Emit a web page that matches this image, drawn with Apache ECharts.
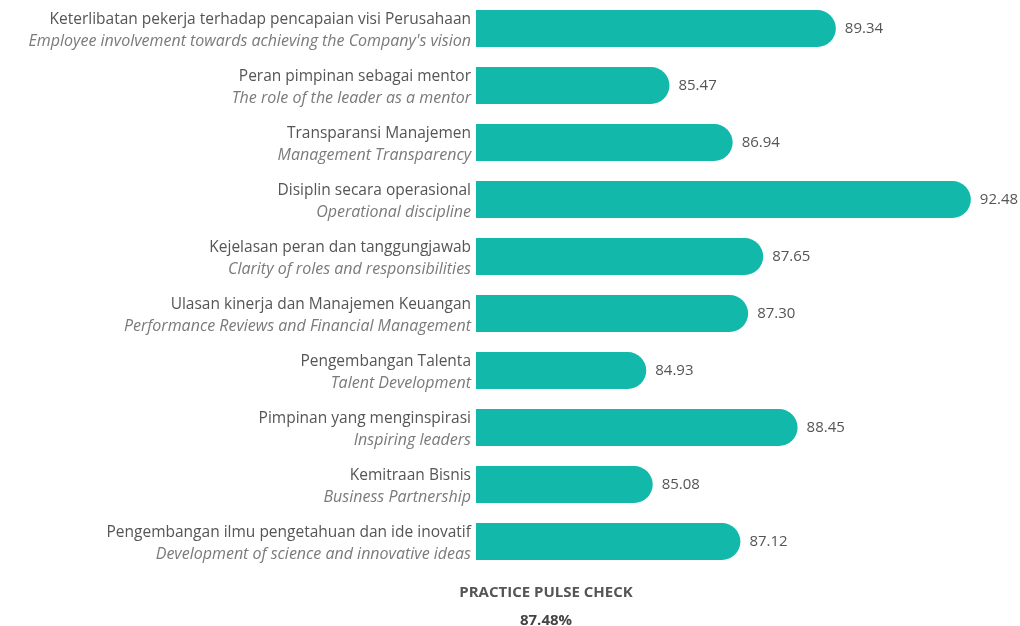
<!DOCTYPE html>
<html>
<head>
<meta charset="utf-8">
<script src="https://cdn.jsdelivr.net/npm/echarts@6/dist/echarts.min.js"></script>
<style>
html,body{margin:0;padding:0;background:#fff;}
#chart{width:1020px;height:626px;}
</style>
</head>
<body>
<div id="chart"></div>
<script>
const labelsId = [
  "Keterlibatan pekerja terhadap pencapaian visi Perusahaan",
  "Peran pimpinan sebagai mentor",
  "Transparansi Manajemen",
  "Disiplin secara operasional",
  "Kejelasan peran dan tanggungjawab",
  "Ulasan kinerja dan Manajemen Keuangan",
  "Pengembangan Talenta",
  "Pimpinan yang menginspirasi",
  "Kemitraan Bisnis",
  "Pengembangan ilmu pengetahuan dan ide inovatif"
];
const labelsEn = [
  "Employee involvement towards achieving the Company's vision",
  "The role of the leader as a mentor",
  "Management Transparency",
  "Operational discipline",
  "Clarity of roles and responsibilities",
  "Performance Reviews and Financial Management",
  "Talent Development",
  "Inspiring leaders",
  "Business Partnership",
  "Development of science and innovative ideas"
];
const scores = [89.34, 85.47, 86.94, 92.48, 87.65, 87.30, 84.93, 88.45, 85.08, 87.12];
const titleText = "PRACTICE PULSE CHECK";
const overallText = "87.48%";

const categories = labelsId.map((s, i) => s + "\n" + labelsEn[i]);
const FONT = 'Open Sans';

const chart = echarts.init(document.getElementById('chart'));
chart.setOption({
  animation: false,
  textStyle: { fontFamily: FONT },
  title: [
    { text: titleText, left: 546, top: 585, textAlign: 'center', padding: 0,
      textStyle: { fontFamily: FONT, fontSize: 15, fontWeight: 'bold', color: '#555' } },
    { text: overallText, left: 546, top: 613, textAlign: 'center', padding: 0,
      textStyle: { fontFamily: FONT, fontSize: 15, fontWeight: 'bold', color: '#444' } }
  ],
  grid: { left: 476, top: 0, height: 570, width: 540, containLabel: false, outerBoundsMode: 'none' },
  xAxis: {
    type: 'value', min: 80.97, max: 93.53,
    show: false
  },
  yAxis: {
    type: 'category', inverse: true, data: categories,
    axisLine: { show: false }, axisTick: { show: false },
    axisLabel: {
      margin: 5, align: 'right', padding: [4, 0, 0, 0],
      formatter: function (v) {
        const p = v.split("\n");
        return '{a|' + p[0] + '}\n{b|' + p[1] + '}';
      },
      rich: {
        a: { fontFamily: FONT, fontSize: 15.5, color: '#555', lineHeight: 21, align: 'right' },
        b: { fontFamily: FONT, fontSize: 16, fontStyle: 'italic', color: '#7a7a7a', lineHeight: 21, align: 'right' }
      }
    }
  },
  series: [{
    type: 'bar', data: scores, barWidth: 37,
    itemStyle: { color: '#12b9aa', borderRadius: [0, 19, 19, 0] },
    label: {
      show: true, position: 'right', distance: 9,
      formatter: p => p.value.toFixed(2),
      fontFamily: FONT, fontSize: 15, color: '#555'
    }
  }]
});
</script>
</body>
</html>
